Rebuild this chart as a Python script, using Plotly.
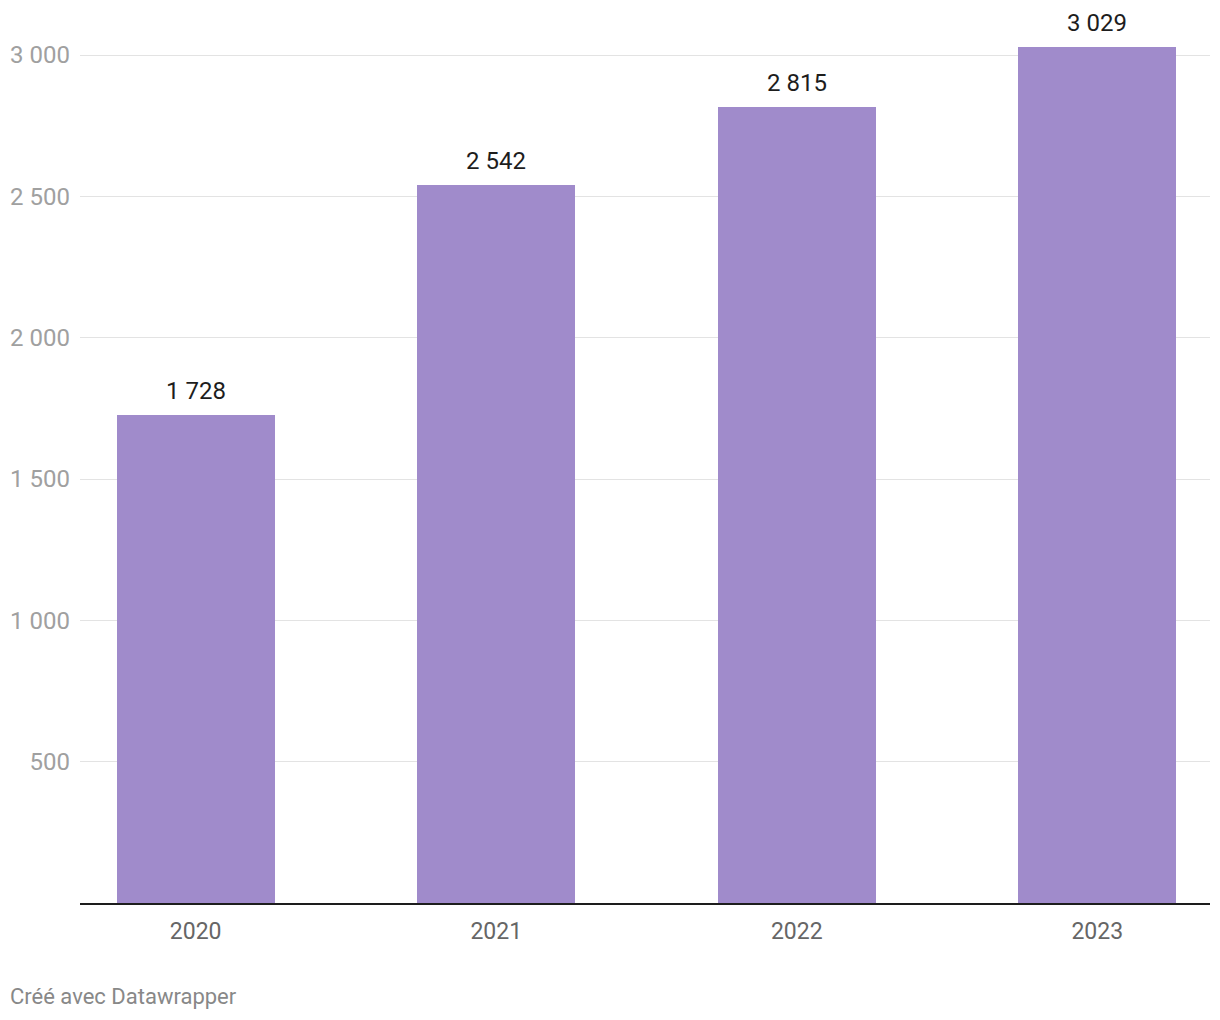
import plotly.graph_objects as go

years = ["2020", "2021", "2022", "2023"]
values = [1728, 2542, 2815, 3029]
tick_vals = [500, 1000, 1500, 2000, 2500, 3000]
tick_text = ["500", "1 000", "1 500", "2 000", "2 500", "3 000"]
bar_labels = ["1 728", "2 542", "2 815", "3 029"]

fig = go.Figure()
fig.add_trace(go.Bar(
    x=years, y=values, width=0.525,
    marker=dict(color="#a08bcb", line=dict(width=0)),
    hoverinfo="skip",
))

# value labels above bars (category index, since "2020" would be read as a number)
for i, (v, lab) in enumerate(zip(values, bar_labels)):
    fig.add_annotation(
        x=i, y=v, text=lab, showarrow=False,
        xanchor="center", yanchor="bottom", yshift=8,
        font=dict(family="Roboto", size=24, color="#1d1d1d"),
    )

# page body has an 8px margin, so the figure is shrunk by that much
fig.update_layout(
    width=1204, height=1004,
    margin=dict(l=72, r=2, t=12, b=109),
    plot_bgcolor="white", paper_bgcolor="white",
    font=dict(family="Roboto"),
    showlegend=False,
    bargap=0,
)
fig.update_xaxes(
    type="category", range=[-0.385, 3.375],
    showgrid=False, showline=True, linecolor="#1d1d1d", linewidth=2,
    ticks="", ticklabelstandoff=6,
    tickfont=dict(family="Roboto", size=23, color="#666666"),
)
fig.update_yaxes(
    range=[0, 3124], tickvals=tick_vals, ticktext=tick_text,
    showgrid=True, gridcolor="#e3e3e3", gridwidth=1,
    zeroline=False, showline=False, ticks="", ticklabelstandoff=9,
    tickfont=dict(family="Roboto", size=24, color="#a0a0a0"),
)
fig.add_annotation(
    text="Créé avec Datawrapper", xref="paper", yref="paper",
    x=-72/1130, y=-94/883, xanchor="left", yanchor="middle", showarrow=False,
    font=dict(family="Roboto", size=22, color="#888888"),
)

fig.write_html("out.html")
